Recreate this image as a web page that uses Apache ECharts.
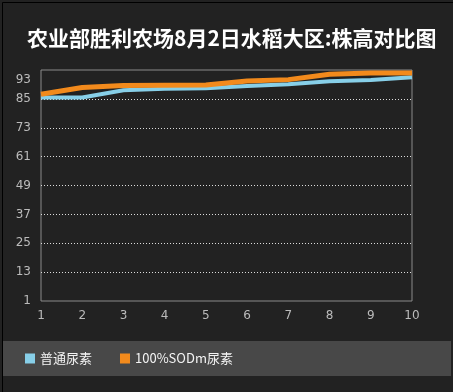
<!DOCTYPE html>
<html><head><meta charset="utf-8">
<script src="https://cdn.jsdelivr.net/npm/echarts@6/dist/echarts.min.js"></script>
<style>html,body{margin:0;padding:0;background:#222;}#c{width:453px;height:392px;}</style>
</head><body><div id="c"></div>
<script>
const categories = ['1','2','3','4','5','6','7','8','9','10'];
const seriesNames = ['普通尿素','100%SODm尿素'];
const normalUrea = [85.6, 85.6, 88.6, 89.2, 89.4, 90.3, 91.1, 92.3, 92.8, 94.0];
const sodmUrea = [86.9, 89.7, 90.6, 90.7, 90.8, 92.4, 93.0, 95.2, 95.8, 95.8];
const yTickLabels = [1, 13, 25, 37, 49, 61, 73, 85, 93];

const chart = echarts.init(document.getElementById('c'));
chart.setOption({
  backgroundColor: '#222222',
  animation: false,
  title: {
    text: '农业部胜利农场8月2日水稻大区:株高对比图',
    left: 22, top: 23,
    textStyle: { color: '#ffffff', fontSize: 21, fontWeight: 'bold', fontFamily: 'Noto Sans CJK SC' }
  },
  graphic: [
    { type: 'rect', left: 2, top: 341, shape: { width: 449, height: 35 }, style: { fill: '#484848' }, z: -1 },
    { type: 'rect', left: 0, top: 0, shape: { width: 452, height: 391 }, style: { fill: 'none', stroke: '#000', lineWidth: 1 }, z: 10 }
  ],
  legend: {
    data: seriesNames,
    left: 20, top: 347,
    icon: 'rect', itemWidth: 10, itemHeight: 10, itemGap: 28,
    textStyle: { color: '#f4f4f4', fontSize: 13, fontFamily: 'Noto Sans CJK SC' }
  },
  grid: { left: 41, right: 41, top: 70, bottom: 91, show: true, borderColor: '#8a8a8a', borderWidth: 1 },
  xAxis: {
    type: 'category', data: categories, boundaryGap: false,
    axisLine: { show: false }, axisTick: { show: false },
    axisLabel: { color: '#bbbbbb', fontSize: 12, margin: 9, fontFamily: 'DejaVu Sans' },
    splitLine: { show: false }
  },
  yAxis: {
    type: 'value', min: 1, max: 97, interval: 12,
    axisLine: { show: false }, axisTick: { show: false },
    axisLabel: { color: '#bbbbbb', fontSize: 12, margin: 10, fontFamily: 'DejaVu Sans',
      customValues: yTickLabels },
    splitLine: { show: true, showMinLine: false, showMaxLine: false, lineStyle: { color: '#dddddd', type: [1, 2], width: 1 } }
  },
  series: [
    { name: seriesNames[0], type: 'line', data: normalUrea, symbol: 'none',
      color: '#87cfe8', lineStyle: { width: 4, color: '#87cfe8' } },
    { name: seriesNames[1], type: 'line', data: sodmUrea, symbol: 'none',
      color: '#f28a1c', lineStyle: { width: 5, color: '#f28a1c' } }
  ]
});
</script></body></html>
